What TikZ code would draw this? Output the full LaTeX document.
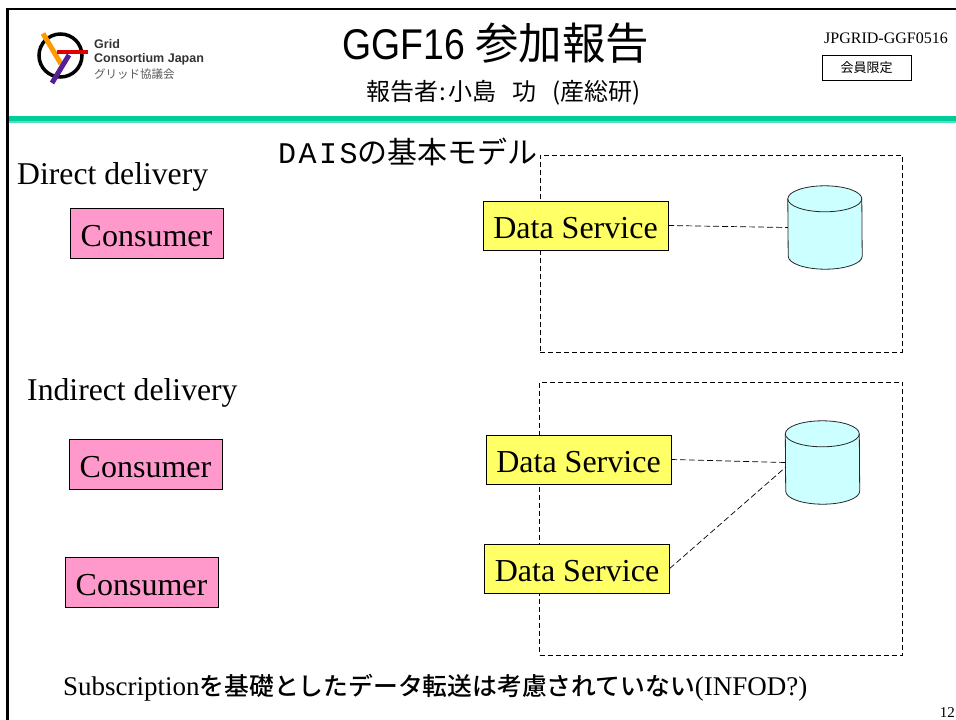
\documentclass[tikz,border=0pt]{standalone}
\usepackage{fontspec}
\setmainfont{Liberation Serif}
\setmonofont{Liberation Mono}
\newfontfamily\cjk{Noto Sans CJK JP}
\newfontfamily\cjkmed{Noto Sans CJK JP Medium}
\newfontfamily\narrowsf[FakeStretch=0.87]{Liberation Sans}
\newfontfamily\logosf{Liberation Sans}
\usetikzlibrary{positioning}
\definecolor{consumerpink}{RGB}{255,153,204}
\definecolor{serviceyellow}{RGB}{255,255,102}
\definecolor{dbcyan}{RGB}{204,255,255}
\definecolor{ruledark}{RGB}{0,204,153}
\definecolor{rulelight}{RGB}{80,225,190}
\definecolor{logoorange}{RGB}{255,153,0}
\definecolor{logored}{RGB}{220,0,0}
\definecolor{logoviolet}{RGB}{85,30,150}
\tikzset{
  consumer/.style={draw,fill=consumerpink,minimum width=153pt,minimum height=50pt,inner sep=0pt,text height=26pt,text depth=0pt,font=\fontsize{32}{32}\selectfont},
  dataservice/.style={draw,fill=serviceyellow,minimum width=185pt,minimum height=49pt,inner sep=0pt,text height=26pt,text depth=0pt,font=\fontsize{32}{32}\selectfont},
  db/.style={minimum width=74pt,minimum height=83pt,inner sep=0pt},
  dbline/.style={draw=black!85,fill=dbcyan,line width=0.8pt},
  zone/.style={draw,dash pattern=on 5pt off 3pt,line width=0.8pt,inner sep=0pt},
  link/.style={dash pattern=on 6pt off 3pt,line width=0.7pt},
  heading/.style={anchor=west,inner sep=0pt,font=\fontsize{31.7}{32}\selectfont},
  logotext/.style={anchor=west,inner sep=0pt,font=\logosf\bfseries\fontsize{12.5}{12.5}\selectfont,text=black!80}
}
\begin{document}
\begin{tikzpicture}[x=1pt,y=-1pt]
\useasboundingbox (0,0) rectangle (956,720);
\fill[black] (6,7.5) rectangle (956,10);
\fill[black] (6,7.5) rectangle (8.5,720);
\fill[ruledark] (8.5,116) rectangle (956,120.5);
\fill[rulelight] (8.5,120.5) rectangle (956,123);
% logo
\draw[line width=3.5pt] (60.5,55.5) circle (21.5pt);
\draw[line width=5pt,color=logoorange] (43,33.5) -- (61,64);
\draw[line width=4.5pt,color=logored] (57,52) -- (88,52);
\draw[line width=5pt,color=logoviolet] (69,55) -- (52,83);
\node[logotext] (logoa) at (94,44.5) {Grid};
\node[logotext] (logob) at (94,59.5) {Consortium Japan};
\node[anchor=west,inner sep=0pt,font=\cjk\fontsize{11.5}{11.5}\selectfont,text=black!65] (logoc) at (94,74.5) {グリッド協議会};
% header
\node[anchor=west,inner sep=0pt] (title) at (342,43) {\fontsize{43}{43}\selectfont\narrowsf GGF16 \cjk\fontsize{43.5}{44}\selectfont 参加報告};
\node[anchor=west,inner sep=0pt] (reporter) at (366,93) {\cjk\fontsize{24}{25}\selectfont 報告者\hspace{1pt}:\hspace{3pt}小島\hspace{16pt}功\hspace{16pt}(産総研)};
\node[anchor=west,inner sep=0pt,font=\fontsize{16}{16}\selectfont] (docid) at (824,38.5) {JPGRID-GGF0516};
\node[draw,minimum width=89pt,minimum height=25pt,inner sep=0pt,font=\cjk\fontsize{13}{13}\selectfont] (members) at (866.5,68) {会員限定};
\node[anchor=west,inner sep=0pt] (slidetitle) at (278,152) {\fontsize{30}{30}\selectfont\ttfamily D\hspace{2.5pt}A\hspace{2.5pt}I\hspace{2.5pt}S\cjk の基本モデル};
% zones
\node[zone,minimum width=362pt,minimum height=197pt] (zonea) at (721,253.5) {};
\node[zone,minimum width=363pt,minimum height=273pt] (zoneb) at (721,518.5) {};
\node[heading] (direct) at (17,176.5) {Direct delivery};
\node[heading] (indirect) at (27,393) {Indirect delivery};
\node[consumer] (consumera) at (146.5,233) {Consumer};
\node[consumer] (consumerb) at (145.5,464) {Consumer};
\node[consumer] (consumerc) at (141.5,582) {Consumer};
\node[dataservice] (servicea) at (575.5,225.5) {Data Service};
\node[dataservice] (serviceb) at (578.5,459.5) {Data Service};
\node[dataservice] (servicec) at (577,568.5) {Data Service};
\node[db] (dba) at (825,227.5) {};
\node[db] (dbb) at (822.5,462.5) {};
\foreach \dbname in {dba,dbb} {
  \draw[dbline] ([yshift=-13pt]\dbname.north west) arc[start angle=180,end angle=0,x radius=37pt,y radius=13pt]
    -- ([yshift=13pt]\dbname.south east) arc[start angle=0,end angle=-180,x radius=37pt,y radius=13pt] -- cycle;
  \draw[dbline,fill=none] ([yshift=-13pt]\dbname.north west) arc[start angle=180,end angle=360,x radius=37pt,y radius=13pt];
}
\path[link]
  (servicea.east) edge (dba.west)
  (serviceb.east) edge (dbb.west)
  (servicec.east) edge ([yshift=-5pt]dbb.west)
  ;
\node[anchor=west,inner sep=0pt] (note) at (63,688) {\fontsize{27}{27}\selectfont Subscription{\cjkmed\fontsize{24.8}{25}\selectfont を基礎としたデータ転送は考慮されていない}(INFOD?)};
\node[anchor=east,inner sep=0pt,font=\fontsize{15}{15}\selectfont] (pageno) at (955,712.5) {12};
\end{tikzpicture}
\end{document}
